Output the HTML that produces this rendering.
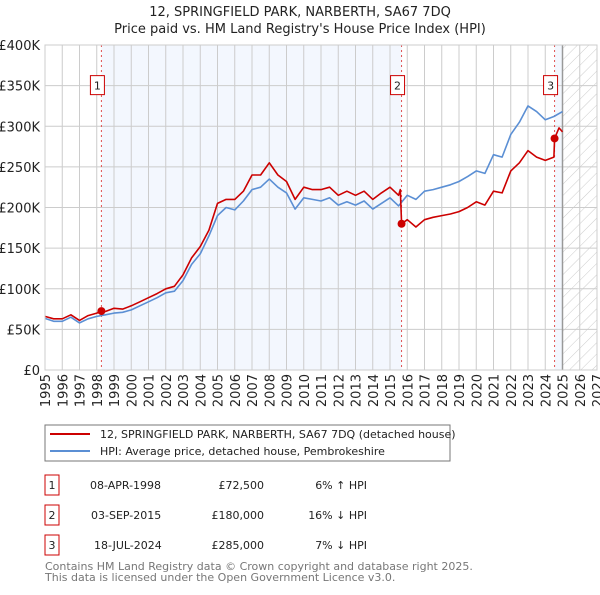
<!DOCTYPE html>
<html><head><meta charset="utf-8"><style>
body{margin:0;background:#fff;font-family:"Liberation Sans","DejaVu Sans",sans-serif;}
svg text{font-family:"DejaVu Sans","Liberation Sans",sans-serif;fill:#222;}
</style></head><body>
<svg id="chart" width="600" height="590" xmlns="http://www.w3.org/2000/svg">
<defs><pattern id="hatch" width="8" height="8" patternUnits="userSpaceOnUse" patternTransform="rotate(45)"><line x1="0" y1="0" x2="0" y2="8" stroke="#ccc" stroke-width="1"/></pattern></defs>
<text x="300" y="16" text-anchor="middle" font-size="13">12, SPRINGFIELD PARK, NARBERTH, SA67 7DQ</text>
<text x="300" y="33" text-anchor="middle" font-size="13">Price paid vs. HM Land Registry's House Price Index (HPI)</text>
<g id="plot"></g>
<rect x="45" y="425" width="405" height="36" fill="#fff" stroke="#777"/>
<line x1="50" y1="434" x2="90" y2="434" stroke="#cc0000" stroke-width="2"/>
<text x="100" y="438" font-size="11">12, SPRINGFIELD PARK, NARBERTH, SA67 7DQ (detached house)</text>
<line x1="50" y1="451" x2="90" y2="451" stroke="#5b8fd4" stroke-width="2"/>
<text x="100" y="455" font-size="11">HPI: Average price, detached house, Pembrokeshire</text>
<g font-size="11">
<rect x="45" y="475" width="14" height="20" fill="#fff" stroke="#cc0000"/><text x="52" y="489" text-anchor="middle">1</text>
<text x="90" y="489">08-APR-1998</text><text x="264" y="489" text-anchor="end">£72,500</text><text x="367" y="489" text-anchor="end">6% ↑ HPI</text>
<rect x="45" y="505" width="14" height="20" fill="#fff" stroke="#cc0000"/><text x="52" y="519" text-anchor="middle">2</text>
<text x="91" y="519">03-SEP-2015</text><text x="264" y="519" text-anchor="end">£180,000</text><text x="367" y="519" text-anchor="end">16% ↓ HPI</text>
<rect x="45" y="535" width="14" height="20" fill="#fff" stroke="#cc0000"/><text x="52" y="549" text-anchor="middle">3</text>
<text x="94" y="549">18-JUL-2024</text><text x="264" y="549" text-anchor="end">£285,000</text><text x="367" y="549" text-anchor="end">7% ↓ HPI</text>
</g>
<text x="45" y="570" font-size="11" style="fill:#777">Contains HM Land Registry data © Crown copyright and database right 2025.</text>
<text x="45" y="581" font-size="11" style="fill:#777">This data is licensed under the Open Government Licence v3.0.</text>
</svg>
<script>
const hpiYears=[1995,1995.5,1996,1996.5,1997,1997.5,1998,1998.5,1999,1999.5,2000,2000.5,2001,2001.5,2002,2002.5,2003,2003.5,2004,2004.5,2005,2005.5,2006,2006.5,2007,2007.5,2008,2008.5,2009,2009.5,2010,2010.5,2011,2011.5,2012,2012.5,2013,2013.5,2014,2014.5,2015,2015.5,2016,2016.5,2017,2017.5,2018,2018.5,2019,2019.5,2020,2020.5,2021,2021.5,2022,2022.5,2023,2023.5,2024,2024.5,2025];
const hpiValues=[63.5,60,60,65,58,63,66,68,70,71,74,79,84,89,95,97,110,130,143,165,190,200,197,208,222,225,235,225,218,198,212,210,208,212,203,207,203,208,198,205,212,202,215,210,220,222,225,228,232,238,245,242,265,262,290,305,325,318,308,312,318];
const priceYears=[1995,1995.5,1996,1996.5,1997,1997.5,1998,1998.27,1998.5,1999,1999.5,2000,2000.5,2001,2001.5,2002,2002.5,2003,2003.5,2004,2004.5,2005,2005.5,2006,2006.5,2007,2007.5,2008,2008.5,2009,2009.5,2010,2010.5,2011,2011.5,2012,2012.5,2013,2013.5,2014,2014.5,2015,2015.5,2015.6,2015.67,2016,2016.5,2017,2017.5,2018,2018.5,2019,2019.5,2020,2020.5,2021,2021.5,2022,2022.5,2023,2023.5,2024,2024.5,2024.54,2024.8,2025];
const priceValues=[66,63,63,68,61,67,70,72.5,72,76,75,79,84,89,94,100,103,117,138,152,172,205,210,210,220,240,240,255,240,232,210,225,222,222,225,215,220,215,220,210,218,225,215,222,180,185,176,185,188,190,192,195,200,207,203,220,218,245,255,270,262,258,262,285,298,293];
const saleYears=[1998.27,2015.67,2024.54];
const saleValues=[72.5,180,285];
const saleLabels=["1","2","3"];
const yTicks=[0,50,100,150,200,250,300,350,400];
const yTickLabels=["£0","£50K","£100K","£150K","£200K","£250K","£300K","£350K","£400K"];
const xTicks=[1995,1996,1997,1998,1999,2000,2001,2002,2003,2004,2005,2006,2007,2008,2009,2010,2011,2012,2013,2014,2015,2016,2017,2018,2019,2020,2021,2022,2023,2024,2025,2026,2027];

const NS="http://www.w3.org/2000/svg";
const L=45,R=597,T=45,B=370,X0=1995,X1=2027,Y1=400,NOW=2025;
const xs=v=>L+(v-X0)/(X1-X0)*(R-L);
const ys=v=>B-v/Y1*(B-T);
const g=document.getElementById('plot');
function mk(tag,attrs){const e=document.createElementNS(NS,tag);for(const k in attrs)e.setAttribute(k,attrs[k]);g.appendChild(e);return e;}

let e=mk('rect',{x:L,y:T,width:R-L,height:B-T,fill:'#fff'});


e=mk('rect',{x:xs(saleYears[0]),y:T,width:xs(saleYears[1])-xs(saleYears[0]),height:B-T,fill:'#f3f7fe'});


e=mk('rect',{x:xs(saleYears[2]),y:T,width:xs(NOW)-xs(saleYears[2]),height:B-T,fill:'#f3f7fe'});


e=mk('rect',{x:xs(NOW),y:T,width:R-xs(NOW),height:B-T,fill:'url(#hatch)'});


yTicks.forEach((v,i)=>{
  const l=mk('line',{x1:L,x2:R,y1:ys(v),y2:ys(v),stroke:'#ccc','stroke-width':1});
  
  
  const t=mk('text',{x:L-5,y:ys(v)+5,'text-anchor':'end','font-size':13});
  t.textContent=yTickLabels[i];
  
  
});
xTicks.forEach(v=>{
  const l=mk('line',{x1:xs(v),x2:xs(v),y1:T,y2:B,stroke:'#ccc','stroke-width':1});
  
  
  const t=mk('text',{x:0,y:0,'text-anchor':'end','font-size':13,transform:`translate(${xs(v)+5},${B+4}) rotate(-90)`});
  t.textContent=v;
  
  
});
e=mk('line',{x1:xs(NOW),x2:xs(NOW),y1:T,y2:B,stroke:'#999','stroke-width':1.5});


saleYears.forEach((v,i)=>{
  const l=mk('line',{x1:xs(v),x2:xs(v),y1:T,y2:B,stroke:'#e05050','stroke-width':1,'stroke-dasharray':'2,3'});
  
  
});
function path(xa,va,color,name){
  const d=xa.map((x,i)=>(i?'L':'M')+xs(x).toFixed(1)+','+ys(va[i]).toFixed(1)).join('');
  const p=mk('path',{d:d,fill:'none',stroke:color,'stroke-width':1.6,'stroke-linejoin':'round'});
  
  
}
path(hpiYears,hpiValues,'#5b8fd4','hpi-line');
path(priceYears,priceValues,'#cc0000','price-line');
saleYears.forEach((v,i)=>{
  const c=mk('circle',{cx:xs(v),cy:ys(saleValues[i]),r:4,fill:'#cc0000'});
  
  
  const bx=xs(v)-7-4;
  const r=mk('rect',{x:bx,y:ys(350)-10,width:14,height:19,fill:'#fff',stroke:'#cc0000'});
  
  
  const t=mk('text',{x:bx+7,y:ys(350)+4,'text-anchor':'middle','font-size':11});
  t.textContent=saleLabels[i];
  
  
});
e=mk('rect',{x:L,y:T,width:R-L,height:B-T,fill:'none',stroke:'#ccc'});


</script>
</body></html>
